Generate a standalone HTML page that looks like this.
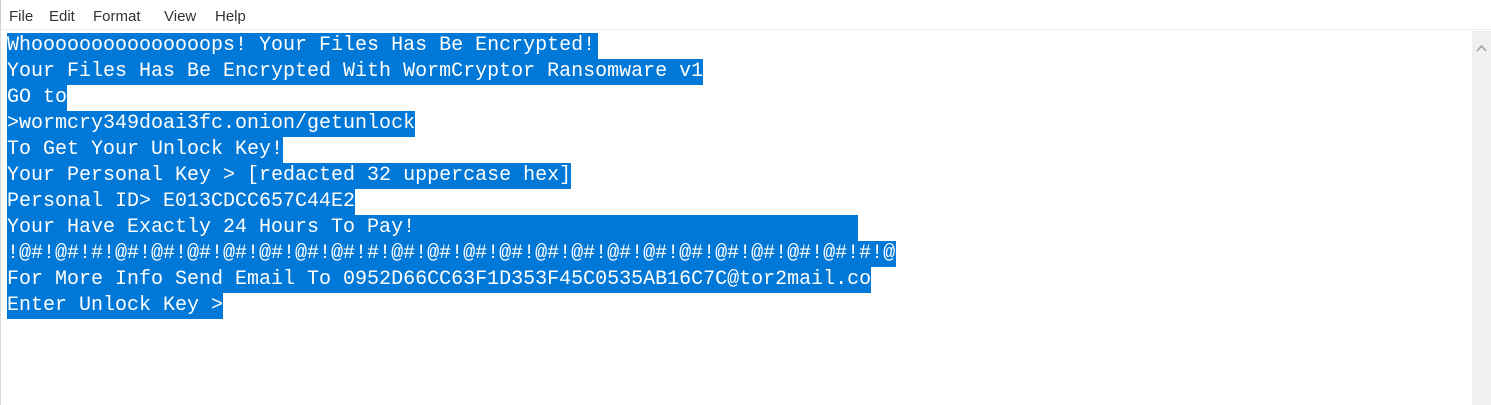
<!DOCTYPE html>
<html><head><style>
body{margin:0;width:1491px;height:405px;background:#fff;overflow:hidden;position:relative;font-family:"Liberation Sans",sans-serif;}
.menu{position:absolute;left:0;top:0;width:1491px;height:30px;border-bottom:1px solid #ececec;border-left:1px solid #d0d0d0;box-sizing:border-box;}
.menu span{position:absolute;top:8px;font-size:15px;color:#333;}
.txt{position:absolute;left:7px;top:33px;font-family:"Liberation Mono",monospace;font-size:20px;color:#fff;}
.txt div{height:26px;white-space:nowrap;}
.txt span{display:inline-block;height:26px;line-height:26px;background:#0078d7;white-space:pre;overflow:hidden;}
.sb{position:absolute;left:1472px;top:31px;width:19px;height:374px;background:#f0f0f0;}
.left{position:absolute;left:0;top:30px;width:1px;height:375px;background:#d8d8d8;}
</style></head><body>
<div class="menu">
<span style="left:8px">File</span><span style="left:48px">Edit</span><span style="left:92px">Format</span><span style="left:163px">View</span><span style="left:214px">Help</span>
</div>
<div class="left"></div>
<div class="txt">
<div><span style="width:591px">Whooooooooooooooops! Your Files Has Be Encrypted!</span></div>
<div><span style="width:696px">Your Files Has Be Encrypted With WormCryptor Ransomware v1</span></div>
<div><span style="width:60px">GO to</span></div>
<div><span style="width:408px">&gt;wormcry349doai3fc.onion/getunlock</span></div>
<div><span style="width:276px">To Get Your Unlock Key!</span></div>
<div><span style="width:564px">Your Personal Key &gt; [redacted 32 uppercase hex]</span></div>
<div><span style="width:348px">Personal ID&gt; E013CDCC657C44E2</span></div>
<div><span style="width:851px">Your Have Exactly 24 Hours To Pay!</span></div>
<div><span style="width:889px">!@#!@#!#!@#!@#!@#!@#!@#!@#!@#!#!@#!@#!@#!@#!@#!@#!@#!@#!@#!@#!@#!@#!@#!#!@</span></div>
<div><span style="width:864px">For More Info Send Email To 0952D66CC63F1D353F45C0535AB16C7C@tor2mail.co</span></div>
<div><span style="width:216px">Enter Unlock Key &gt;</span></div>
</div>
<div class="sb"><svg width="19" height="20" style="position:absolute;top:8px;left:0"><polyline points="5,12 9.5,7 14,12" fill="none" stroke="#a0a0a0" stroke-width="1.5"/></svg></div>
</body></html>
